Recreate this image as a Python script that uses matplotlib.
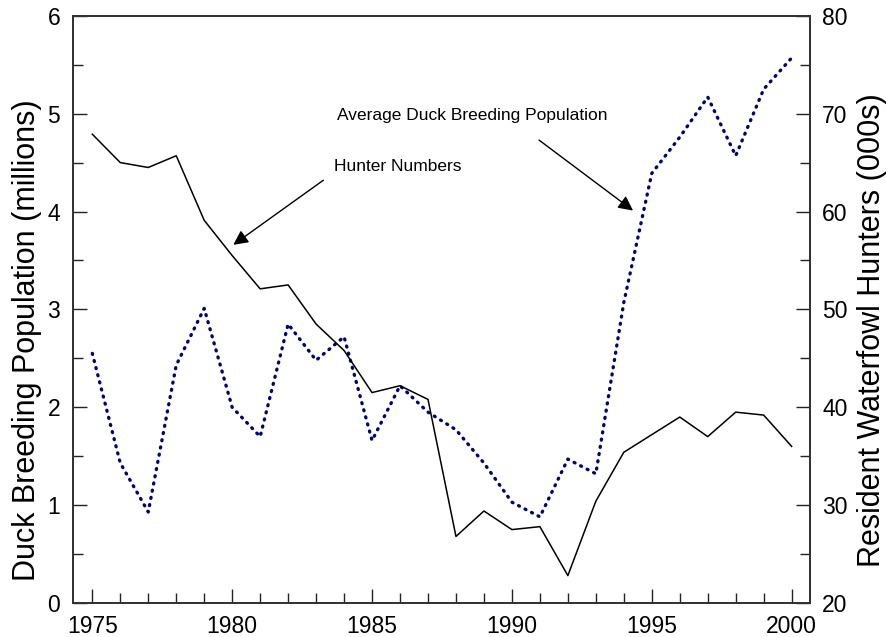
import matplotlib
matplotlib.use("Agg")
import matplotlib.pyplot as plt
from matplotlib.ticker import MultipleLocator

plt.rcParams['font.family'] = ['Liberation Sans', 'DejaVu Sans']

years = list(range(1975, 2001))

# average duck breeding population (millions)
ducks = [2.55, 1.43, 0.93, 2.43, 3.01, 2.00, 1.70, 2.85, 2.48, 2.72,
         1.66, 2.22, 1.95, 1.77, 1.43, 1.03, 0.88, 1.47, 1.32, 3.07,
         4.39, 4.76, 5.17, 4.57, 5.25, 5.57]

# resident waterfowl hunters (000s)
hunters = [67.9, 65.0, 64.5, 65.7, 59.1, 55.5, 52.1, 52.5, 48.5, 45.8,
           41.5, 42.2, 40.8, 26.8, 29.4, 27.5, 27.8, 22.8, 30.4, 35.4,
           37.2, 39.0, 37.0, 39.5, 39.2, 36.0]

fig = plt.figure(figsize=(8.87, 6.37), dpi=100)
ax = fig.add_axes([0.082, 0.0534, 0.831, 0.9218])
ax2 = ax.twinx()

ax.plot(years, ducks, color='#000080', lw=2.4, linestyle=(0, (0.3, 1.9)),
        dash_capstyle='round')
ax2.plot(years, hunters, color='black', lw=1.1)

ax.set_xlim(1974.3, 2000.65)
ax.set_ylim(0, 6)
ax2.set_ylim(20, 80)

ax.xaxis.set_major_locator(MultipleLocator(5))
ax.xaxis.set_minor_locator(MultipleLocator(1))
ax.yaxis.set_major_locator(MultipleLocator(1))
ax.yaxis.set_minor_locator(MultipleLocator(0.5))
ax2.yaxis.set_major_locator(MultipleLocator(10))
ax2.yaxis.set_minor_locator(MultipleLocator(5))

for a in (ax, ax2):
    a.tick_params(which='both', direction='in', labelsize=16.5, pad=9,
                  width=1, color='#222222')
    a.tick_params(which='major', length=10)
    a.tick_params(which='minor', length=7)
    for s in a.spines.values():
        s.set_linewidth(1.3)
        s.set_color('#333333')
ax.tick_params(which='both', top=False, right=False)

fig.text(0.030, 0.466, 'Duck Breeding Population (millions)', rotation=90,
         ha='center', va='center', fontsize=22)
fig.text(0.983, 0.482, 'Resident Waterfowl Hunters (000s)', rotation=90,
         ha='center', va='center', fontsize=22)

# labels with pointer arrows
ax.text(1983.63, 4.46, 'Hunter Numbers', fontsize=12.5, va='center', ha='left')
ax.text(1983.74, 4.98, 'Average Duck Breeding Population', fontsize=12.5,
        va='center', ha='left')
arrow = dict(arrowstyle='-|>', color='black', lw=1, mutation_scale=22,
             shrinkA=0, shrinkB=0)
ax.annotate('', xy=(1980.04, 3.66), xytext=(1983.26, 4.32), arrowprops=arrow)
ax.annotate('', xy=(1994.33, 4.01), xytext=(1990.97, 4.73), arrowprops=arrow)

fig.savefig('out.png', dpi=100)
